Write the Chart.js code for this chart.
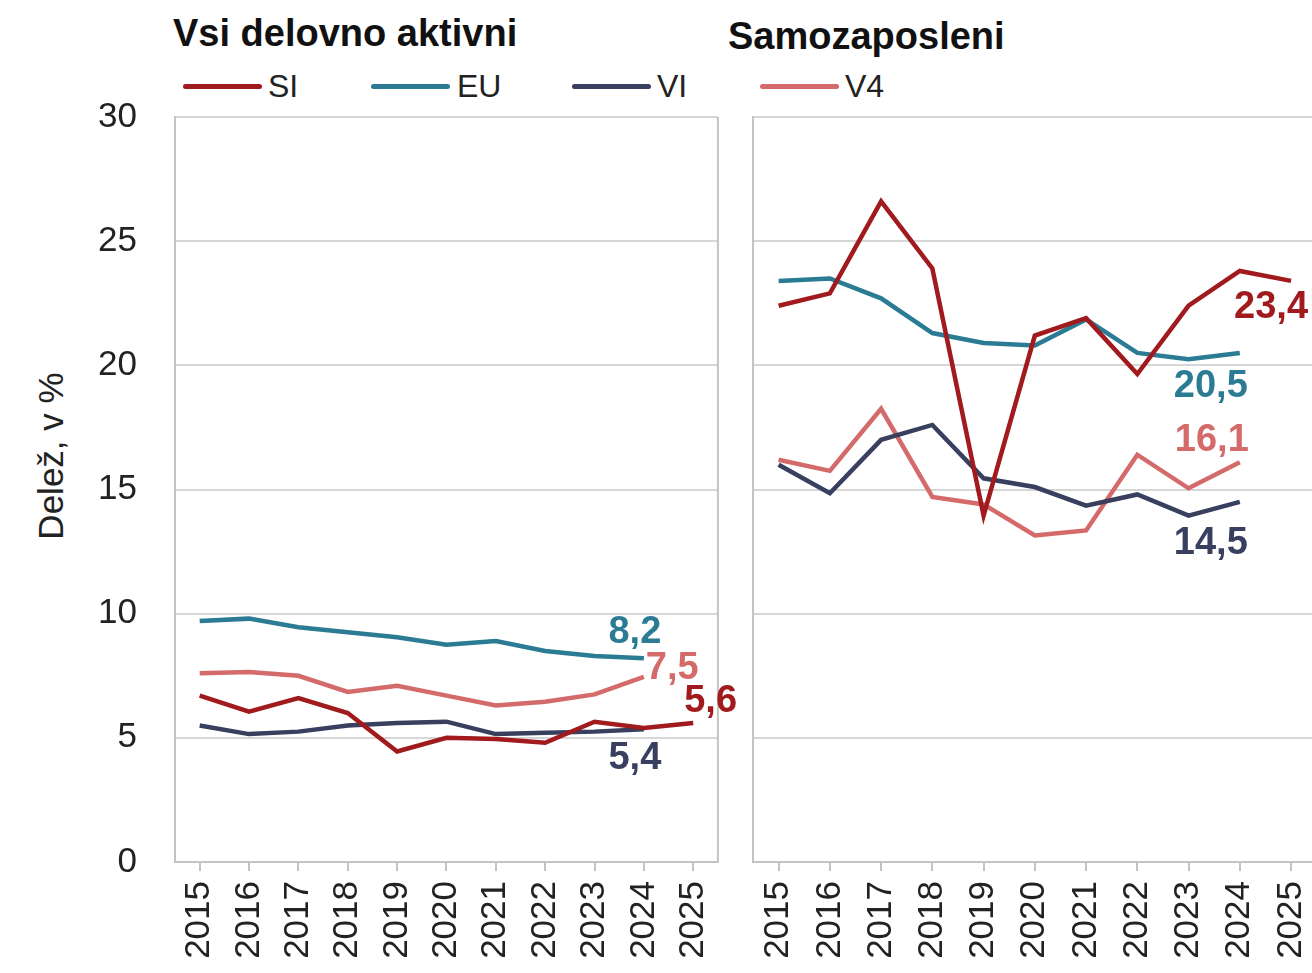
<!DOCTYPE html>
<html><head><meta charset="utf-8">
<script src="https://cdn.jsdelivr.net/npm/chart.js@4/dist/chart.umd.min.js"></script>
<style>
html,body{margin:0;padding:0;background:#fff;overflow:hidden;width:1312px;height:973px;}
body{position:relative;font-family:"Liberation Sans",Arial,sans-serif;color:#1a1a1a;}
.t{position:absolute;white-space:nowrap;font-weight:bold;font-size:38px;line-height:38px;color:#111;}
.leg{position:absolute;top:70px;font-size:32px;line-height:32px;color:#222;white-space:nowrap;}
.sw{position:absolute;top:84px;width:79px;height:5px;border-radius:3px;}
.ytitle{position:absolute;left:50px;top:456px;transform:translate(-50%,-50%) rotate(-90deg);font-size:35px;line-height:35px;color:#222;white-space:nowrap;}
#c1{position:absolute;left:0;top:0;}
#c2{position:absolute;left:740px;top:0;}
</style></head>
<body>
<div class="t" style="left:173px;top:14px;">Vsi delovno aktivni</div>
<div class="t" style="left:728px;top:17px;">Samozaposleni</div>
<div class="sw" style="left:183px;background:#a01a1e"></div><div class="leg" style="left:268px;">SI</div>
<div class="sw" style="left:371px;background:#2a7b93"></div><div class="leg" style="left:457px;">EU</div>
<div class="sw" style="left:572px;background:#393f5e"></div><div class="leg" style="left:657px;">VI</div>
<div class="sw" style="left:760px;background:#d46a6a"></div><div class="leg" style="left:845px;">V4</div>
<div class="ytitle">Delež, v %</div>
<canvas id="c1" width="746" height="973"></canvas>
<canvas id="c2" width="604" height="973"></canvas>
<script>
// ---- data ----
const years = ['2015','2016','2017','2018','2019','2020','2021','2022','2023','2024','2025'];
const seriesNames = ['SI','EU','VI','V4'];
const yTicks = [0,5,10,15,20,25,30];

// Vsi delovno aktivni
const siAll = [6.7, 6.05, 6.6, 6.0, 4.45, 5.0, 4.95, 4.8, 5.65, 5.4, 5.6];
const euAll = [9.7, 9.8, 9.45, 9.25, 9.05, 8.75, 8.9, 8.5, 8.3, 8.2, null];
const viAll = [5.5, 5.15, 5.25, 5.5, 5.6, 5.65, 5.15, 5.2, 5.25, 5.35, null];
const v4All = [7.6, 7.65, 7.5, 6.85, 7.1, 6.7, 6.3, 6.45, 6.75, 7.45, null];
const endLabelsAll = ['5,6','8,2','5,4','7,5'];

// Samozaposleni
const siSelf = [22.4, 22.9, 26.6, 23.9, 13.95, 21.2, 21.9, 19.65, 22.4, 23.8, 23.4];
const euSelf = [23.4, 23.5, 22.7, 21.3, 20.9, 20.8, 21.85, 20.5, 20.25, 20.5, null];
const viSelf = [16.0, 14.85, 17.0, 17.6, 15.45, 15.1, 14.35, 14.8, 13.95, 14.5, null];
const v4Self = [16.2, 15.75, 18.25, 14.7, 14.4, 13.15, 13.35, 16.4, 15.05, 16.1, null];
const endLabelsSelf = ['23,4','20,5','14,5','16,1'];

// ---- styles ----
const colors = ['#a01a1e','#2a7b93','#393f5e','#d46a6a'];
const FONT = '"Liberation Sans", Arial, sans-serif';
const gridColor = '#d6d6d6';
const frameColor = '#c4c4c4';

// label placement (pixel offsets from the last point of each series)
const labelPosAll = [
  {dx:-9, dy:-21, align:'left'},
  {dx:-9, dy:-26, align:'center'},
  {dx:-9, dy:29, align:'center'},
  {dx:2, dy:-8, align:'left'}
];
const labelPosSelf = [
  {dx:-20, dy:27, align:'center'},
  {dx:-29, dy:34, align:'center'},
  {dx:-29, dy:42, align:'center'},
  {dx:-28, dy:-22, align:'center'}
];

function lastIndex(arr){ for(let i=arr.length-1;i>=0;i--) if(arr[i]!==null) return i; return -1; }

const endLabelPlugin = {
  id:'endLabels',
  afterDatasetsDraw(chart, args, opts){
    const ctx = chart.ctx;
    ctx.save();
    ctx.font = 'bold 38px ' + FONT;
    ctx.textBaseline = 'middle';
    chart.data.datasets.forEach((ds, i) => {
      const idx = lastIndex(ds.data);
      const pt = chart.getDatasetMeta(i).data[idx];
      const p = opts.pos[i];
      ctx.fillStyle = colors[i];
      ctx.textAlign = p.align;
      ctx.fillText(opts.texts[i], pt.x + p.dx, pt.y + p.dy);
    });
    ctx.restore();
  }
};
const framePlugin = {
  id:'frame',
  beforeDatasetsDraw(chart, args, opts){
    if(!opts.right) return;
    const a = chart.chartArea, ctx = chart.ctx;
    ctx.save();
    ctx.strokeStyle = frameColor; ctx.lineWidth = 2;
    ctx.beginPath(); ctx.moveTo(a.right, a.top); ctx.lineTo(a.right, a.bottom); ctx.stroke();
    ctx.restore();
  }
};

function makeDatasets(arrs){
  return arrs.map((d,i)=>({
    label: seriesNames[i], data: d, borderColor: colors[i], backgroundColor: colors[i],
    borderWidth: 4.5, pointRadius: 0, tension: 0, spanGaps: false,
    borderCapStyle:'butt', borderJoinStyle:'miter'
  }));
}

function makeOptions(yWidth, showY, padRight, texts, pos, rightFrame){
  return {
    responsive:false, animation:false, devicePixelRatio:1,
    layout:{padding:{top:117, right:padRight, left:0, bottom:0}},
    plugins:{legend:{display:false}, tooltip:{enabled:false},
      endLabels:{texts:texts, pos:pos}, frame:{right:rightFrame}},
    scales:{
      x:{
        type:'category', offset:true,
        grid:{drawOnChartArea:false, drawTicks:true, tickLength:9, color:frameColor, lineWidth:2, offset:false},
        border:{display:true, color:frameColor, width:2},
        ticks:{minRotation:90, maxRotation:90, autoSkip:false, padding:10, color:'#222', font:{family:FONT, size:35}},
        afterFit(s){ s.height = 111; }
      },
      y:{
        min:0, max:30,
        afterBuildTicks(s){ s.ticks = yTicks.map(v=>({value:v})); },
        grid:{color:gridColor, lineWidth:2, drawTicks:false},
        border:{display:true, color:frameColor, width:2},
        ticks:{display:showY, padding:38, color:'#222', font:{family:FONT, size:35}},
        afterFit(s){ s.width = yWidth; }
      }
    }
  };
}

new Chart(document.getElementById('c1'), {
  type:'line',
  data:{labels:years, datasets:makeDatasets([siAll, euAll, viAll, v4All])},
  options:makeOptions(175, true, 17, endLabelsAll, labelPosAll, true),
  plugins:[endLabelPlugin, framePlugin]
});
new Chart(document.getElementById('c2'), {
  type:'line',
  data:{labels:years, datasets:makeDatasets([siSelf, euSelf, viSelf, v4Self])},
  options:makeOptions(13, false, 21, endLabelsSelf, labelPosSelf, false),
  plugins:[endLabelPlugin, framePlugin]
});
</script>
</body></html>
